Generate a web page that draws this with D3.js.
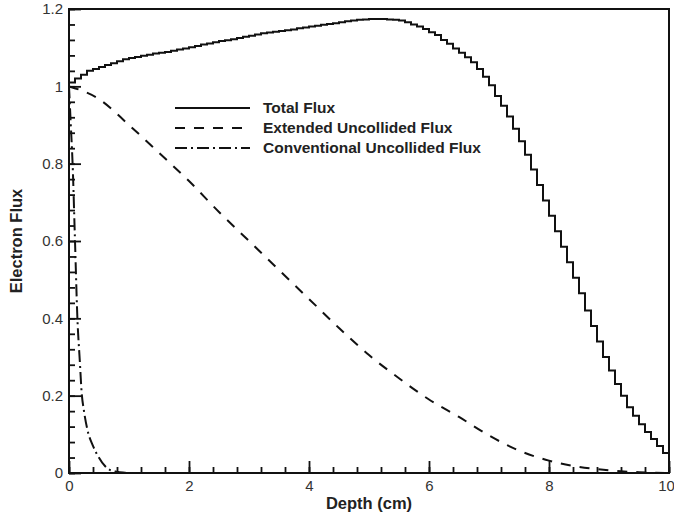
<!DOCTYPE html>
<html lang="en">
<head>
<meta charset="UTF-8"/>
<title>Electron Flux</title>
<script src="https://d3js.org/d3.v7.min.js"></script>
<style>
  body { margin: 0; background: #fff; }
  text { font-family: "Liberation Sans", Arial, sans-serif; fill: #222; }
  .axis path { display: none; }
  .axis line { stroke: #111; stroke-width: 1.8; }
  .axis text { font-size: 15px; fill: #333; }
  .legend text { font-size: 15.5px; font-weight: bold; }
  .title { font-size: 16.5px; font-weight: bold; }
</style>
</head>
<body>
<div id="chart"></div>
<script>
// total flux, one value per 0.1 cm bin (0 - 10 cm)
var binWidth = 0.1;
var totalFlux = [
  1.010, 1.020, 1.030, 1.040, 1.045, 1.050, 1.055, 1.060, 1.065, 1.070,
  1.073, 1.076, 1.079, 1.082, 1.085, 1.087, 1.089, 1.092, 1.095, 1.098,
  1.101, 1.104, 1.108, 1.111, 1.114, 1.117, 1.119, 1.122, 1.125, 1.128,
  1.131, 1.134, 1.137, 1.139, 1.141, 1.143, 1.145, 1.147, 1.150, 1.152,
  1.155, 1.157, 1.159, 1.161, 1.163, 1.166, 1.168, 1.170, 1.172, 1.173,
  1.174, 1.174, 1.174, 1.173, 1.172, 1.170, 1.166, 1.160, 1.155, 1.148,
  1.140, 1.133, 1.120, 1.110, 1.098, 1.087, 1.075, 1.062, 1.045, 1.025,
  1.003, 0.975, 0.950, 0.922, 0.890, 0.858, 0.823, 0.785, 0.745, 0.705,
  0.665, 0.625, 0.585, 0.545, 0.505, 0.465, 0.420, 0.380, 0.340, 0.300,
  0.265, 0.230, 0.200, 0.170, 0.148, 0.126, 0.106, 0.088, 0.070, 0.052
];

// extended uncollided flux
var extDepth = [0, 0.5, 1.0, 1.5, 2.0, 2.5, 3.0, 3.5, 4.0, 4.5, 5.0, 5.5, 6.0, 6.5, 7.0, 7.5, 8.0, 8.5, 9.0, 9.5, 10];
var extFlux  = [1.0, 0.967, 0.90, 0.828, 0.755, 0.675, 0.60, 0.525, 0.45, 0.375, 0.305, 0.245, 0.19, 0.145, 0.097, 0.058, 0.032, 0.016, 0.007, 0.002, 0.0];

// conventional uncollided flux
var convDepth = [0, 0.03, 0.06, 0.10, 0.14, 0.18, 0.21, 0.25, 0.31, 0.40, 0.49, 0.60, 0.68, 0.80, 0.90, 1.0, 1.2];
var convFlux  = [1.0, 0.90, 0.80, 0.60, 0.40, 0.29, 0.21, 0.16, 0.11, 0.07, 0.042, 0.018, 0.008, 0.003, 0.001, 0.0, 0.0];

var seriesNames = ["Total Flux", "Extended Uncollided Flux", "Conventional Uncollided Flux"];
var seriesDash = [null, "10,9", "12,4,2,4"];

var xMajor = [0, 2, 4, 6, 8, 10];
var yMajor = [0, 0.2, 0.4, 0.6, 0.8, 1, 1.2];

var margin = {top: 9, right: 5, bottom: 43, left: 69},
    width = 674 - margin.left - margin.right,
    height = 516 - margin.top - margin.bottom;

var svg = d3.select("#chart")
  .append("svg")
    .attr("width", 674)
    .attr("height", 516)
  .append("g")
    .attr("transform", "translate(" + margin.left + "," + margin.top + ")");

var x = d3.scaleLinear().domain([0, 10]).range([0, 600]);
var y = d3.scaleLinear().domain([0, 1.2]).range([464, 0]);
var plotW = 600, plotH = 464;

svg.append("clipPath").attr("id", "clip")
  .append("rect").attr("width", plotW).attr("height", plotH);

// minor ticks
svg.append("g")
  .attr("class", "axis")
  .attr("transform", "translate(0," + plotH + ")")
  .call(d3.axisBottom(x).tickValues(d3.range(0, 10.01, 0.4)).tickSize(-6).tickSizeOuter(0).tickFormat(""));
svg.append("g")
  .attr("class", "axis")
  .call(d3.axisLeft(y).tickValues(d3.range(0, 1.201, 0.04)).tickSize(-6).tickSizeOuter(0).tickFormat(""));

// major ticks
var xAxis = svg.append("g")
  .attr("class", "axis")
  .attr("transform", "translate(0," + plotH + ")")
  .call(d3.axisBottom(x).tickValues(xMajor).tickSize(-12).tickSizeOuter(0).tickPadding(7).tickFormat(d3.format("d")));
// keep the last label inside the window
xAxis.selectAll(".tick text").filter(function(d) { return d === 10; }).attr("dx", "-3");

svg.append("g")
  .attr("class", "axis")
  .call(d3.axisLeft(y).tickValues(yMajor).tickSize(-12).tickSizeOuter(0).tickPadding(6).tickFormat(function(d) { return d3.format("~g")(d); }));

// frame
svg.append("rect")
  .attr("width", plotW).attr("height", plotH)
  .attr("fill", "none").attr("stroke", "#111").attr("stroke-width", 2);

var lines = svg.append("g").attr("clip-path", "url(#clip)");

var stepPts = totalFlux.map(function(v, i) { return [i * binWidth, v]; });
stepPts.push([totalFlux.length * binWidth, totalFlux[totalFlux.length - 1]]);

lines.append("path")
  .datum(stepPts)
  .attr("fill", "none").attr("stroke", "#111").attr("stroke-width", 2)
  .attr("d", d3.line().x(function(d) { return x(d[0]); }).y(function(d) { return y(d[1]); }).curve(d3.curveStepAfter));

lines.append("path")
  .datum(d3.zip(extDepth, extFlux))
  .attr("fill", "none").attr("stroke", "#111").attr("stroke-width", 2)
  .attr("stroke-dasharray", seriesDash[1])
  .attr("d", d3.line().x(function(d) { return x(d[0]); }).y(function(d) { return y(d[1]); }).curve(d3.curveMonotoneX));

lines.append("path")
  .datum(d3.zip(convDepth, convFlux))
  .attr("fill", "none").attr("stroke", "#111").attr("stroke-width", 2)
  .attr("stroke-dasharray", seriesDash[2])
  .attr("d", d3.line().x(function(d) { return x(d[0]); }).y(function(d) { return y(d[1]); }).curve(d3.curveMonotoneX));

// legend
var legend = svg.append("g").attr("class", "legend").attr("transform", "translate(106,99)");
seriesNames.forEach(function(name, i) {
  var row = legend.append("g").attr("transform", "translate(0," + (i * 20) + ")");
  row.append("line")
    .attr("x1", 0).attr("x2", 75)
    .attr("stroke", "#111").attr("stroke-width", 2)
    .attr("stroke-dasharray", seriesDash[i]);
  row.append("text")
    .attr("x", 88).attr("dy", "0.35em")
    .text(name);
});

// axis titles
svg.append("text")
  .attr("class", "title")
  .attr("x", plotW / 2).attr("y", plotH + 36)
  .attr("text-anchor", "middle")
  .text("Depth (cm)");

svg.append("text")
  .attr("class", "title")
  .attr("transform", "translate(-47," + (plotH / 2) + ")rotate(-90)")
  .attr("text-anchor", "middle")
  .text("Electron Flux");
</script>
</body>
</html>
